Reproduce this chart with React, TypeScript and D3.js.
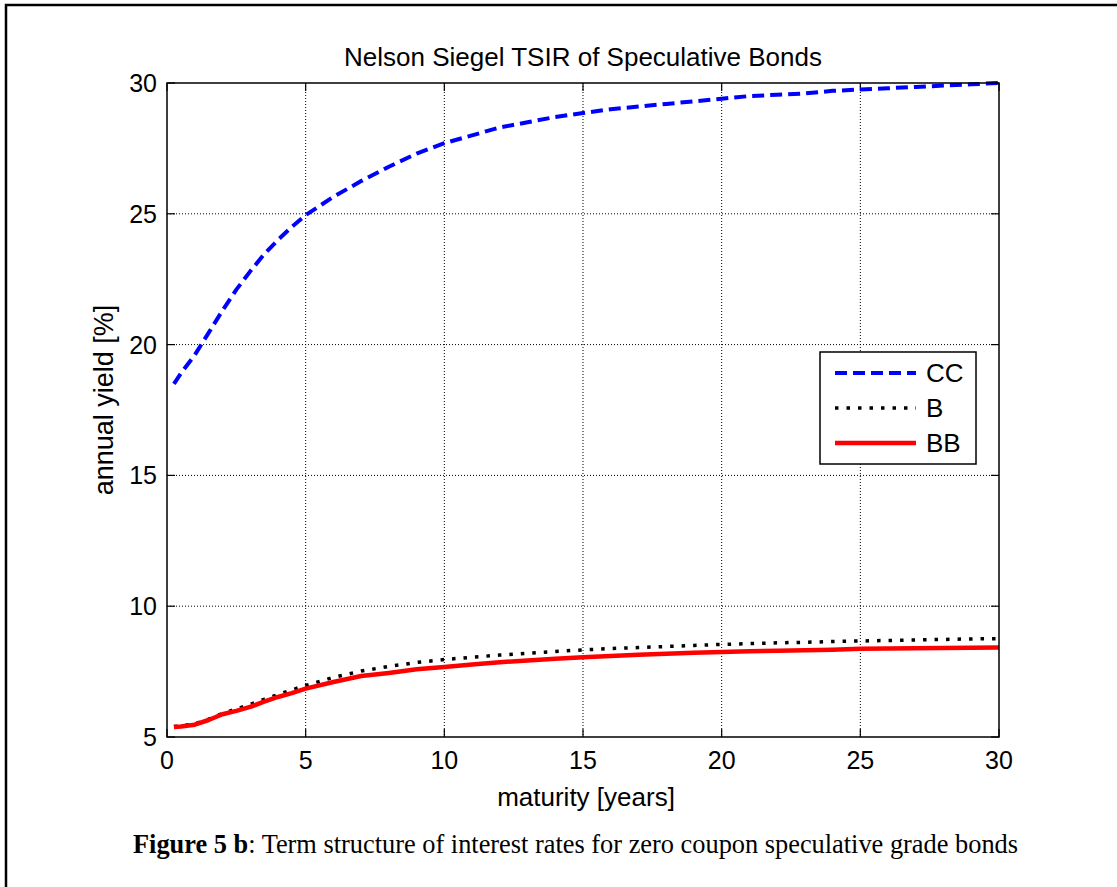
import React from "react";
import * as d3 from "d3";

const maturities = [0.25, 0.5, 1, 1.5, 2, 2.5, 3, 3.5, 4, 4.5, 5, 6, 7, 8, 9, 10, 11, 12, 13, 14, 15, 16, 17, 18, 19, 20, 21, 22, 23, 24, 25, 26, 27, 28, 29, 30];
const ccYield = [18.5, 18.9, 19.6, 20.45, 21.3, 22.1, 22.8, 23.45, 24.0, 24.5, 24.95, 25.65, 26.25, 26.8, 27.3, 27.7, 28.0, 28.3, 28.5, 28.7, 28.85, 29.0, 29.1, 29.2, 29.3, 29.4, 29.5, 29.55, 29.6, 29.7, 29.75, 29.8, 29.85, 29.9, 29.95, 30.0];
const bYield = [5.4, 5.42, 5.5, 5.68, 5.9, 6.07, 6.25, 6.44, 6.62, 6.8, 6.97, 7.28, 7.52, 7.7, 7.85, 7.96, 8.05, 8.13, 8.2, 8.27, 8.33, 8.38, 8.42, 8.46, 8.5, 8.54, 8.57, 8.6, 8.62, 8.65, 8.67, 8.69, 8.71, 8.73, 8.75, 8.76];
const bbYield = [5.38, 5.4, 5.47, 5.65, 5.87, 6.0, 6.15, 6.35, 6.53, 6.68, 6.85, 7.1, 7.33, 7.45, 7.59, 7.68, 7.77, 7.86, 7.92, 7.99, 8.05, 8.1, 8.14, 8.18, 8.22, 8.25, 8.28, 8.3, 8.32, 8.34, 8.37, 8.38, 8.39, 8.4, 8.41, 8.42];
const xTicks = [0, 5, 10, 15, 20, 25, 30];
const yTicks = [5, 10, 15, 20, 25, 30];
const seriesNames = ["CC", "B", "BB"];

const W = 1117;
const H = 887;
const L = 167, R = 999, T = 83, B = 737;
const font = "'Liberation Sans', Arial, Helvetica, sans-serif";
const serif = "'Liberation Serif', 'Times New Roman', Times, serif";

export default function App() {
  const x = d3.scaleLinear().domain([0, 30]).range([L, R]);
  const y = d3.scaleLinear().domain([5, 30]).range([B, T]);
  const line = (vals: number[]) =>
    d3.line<number>().x((_, i) => x(maturities[i])).y((v) => y(v))(vals) || "";

  const styles = [
    { stroke: "#0000ff", dash: "12,6", width: 4 },
    { stroke: "#000000", dash: "3.5,8", width: 3.5 },
    { stroke: "#ff0000", dash: "", width: 4.5 },
  ];
  const data = [ccYield, bYield, bbYield];

  const lx = 820, ly = 352, lw = 156, lh = 112;

  return (
    <svg width={W} height={H} style={{ position: "absolute", left: 0, top: 0, background: "#fff" }}>
      <rect x={0} y={0} width={W} height={H} fill="#fff" />
      <rect x={6} y={5} width={W + 20} height={H + 20} fill="none" stroke="#000" strokeWidth={2.5} />
      {xTicks.slice(1, -1).map((t) => (
        <line key={"gx" + t} x1={x(t)} x2={x(t)} y1={T} y2={B} stroke="#000" strokeWidth={1} strokeDasharray="1,2" />
      ))}
      {yTicks.slice(1, -1).map((t) => (
        <line key={"gy" + t} x1={L} x2={R} y1={y(t)} y2={y(t)} stroke="#000" strokeWidth={1} strokeDasharray="1,2" />
      ))}
      {xTicks.map((t) => (
        <g key={"tx" + t}>
          <line x1={x(t)} x2={x(t)} y1={B} y2={B - 8} stroke="#000" strokeWidth={1.2} />
          <line x1={x(t)} x2={x(t)} y1={T} y2={T + 8} stroke="#000" strokeWidth={1.2} />
          <text x={x(t)} y={B + 32} textAnchor="middle" fontFamily={font} fontSize={25}>{t}</text>
        </g>
      ))}
      {yTicks.map((t) => (
        <g key={"ty" + t}>
          <line x1={L} x2={L + 8} y1={y(t)} y2={y(t)} stroke="#000" strokeWidth={1.2} />
          <line x1={R} x2={R - 8} y1={y(t)} y2={y(t)} stroke="#000" strokeWidth={1.2} />
          <text x={L - 10} y={y(t) + 9} textAnchor="end" fontFamily={font} fontSize={25}>{t}</text>
        </g>
      ))}
      {data.map((d, i) => (
        <path key={"s" + i} d={line(d)} fill="none" stroke={styles[i].stroke} strokeWidth={styles[i].width}
          strokeDasharray={styles[i].dash || undefined} strokeLinejoin="round" />
      ))}
      <rect x={L} y={T} width={R - L} height={B - T} fill="none" stroke="#000" strokeWidth={1.5} />
      <rect x={lx} y={ly} width={lw} height={lh} fill="#fff" stroke="#000" strokeWidth={1.5} />
      {seriesNames.map((n, i) => {
        const yy = ly + 21 + i * 35;
        return (
          <g key={"lg" + n}>
            <line x1={lx + 15} x2={lx + 96} y1={yy} y2={yy} stroke={styles[i].stroke} strokeWidth={styles[i].width}
              strokeDasharray={styles[i].dash || undefined} />
            <text x={lx + 106} y={yy + 9} fontFamily={font} fontSize={26}>{n}</text>
          </g>
        );
      })}
      <text x={583} y={66} textAnchor="middle" fontFamily={font} fontSize={26}>Nelson Siegel TSIR of Speculative Bonds</text>
      <text x={586} y={806} textAnchor="middle" fontFamily={font} fontSize={26}>maturity [years]</text>
      <text transform={`translate(113, ${(T + B) / 2 - 10}) rotate(-90)`} textAnchor="middle" fontFamily={font} fontSize={27}>annual yield [%]</text>
      <text x={133} y={853} fontFamily={serif} fontSize={27} textLength={885} lengthAdjust="spacingAndGlyphs">
        <tspan fontWeight="bold">Figure 5 b</tspan>
        <tspan>:  Term structure of interest rates for zero coupon speculative grade bonds</tspan>
      </text>
    </svg>
  );
}
